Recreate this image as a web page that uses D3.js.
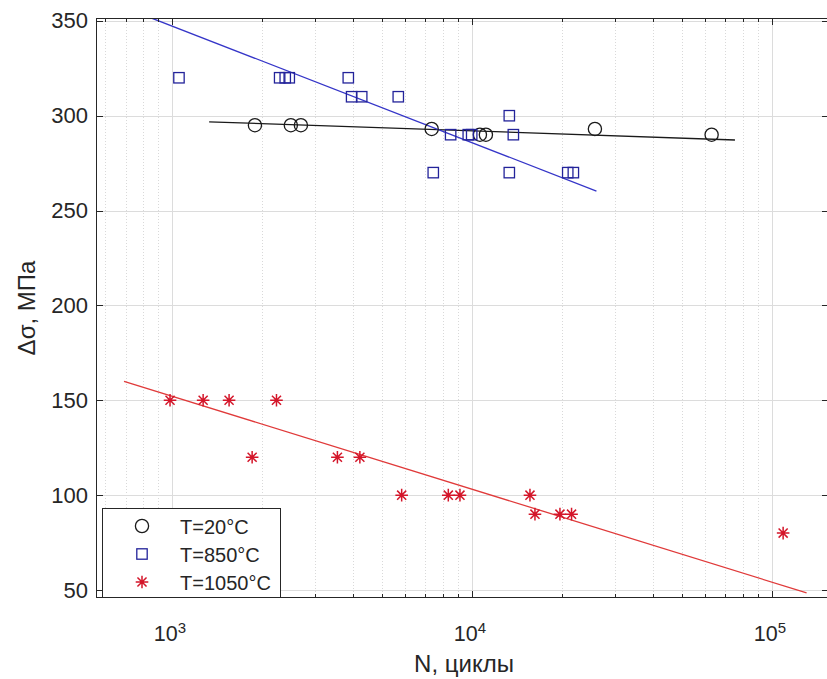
<!DOCTYPE html>
<html>
<head>
<meta charset="utf-8">
<script src="https://cdn.jsdelivr.net/npm/d3@7"></script>
<style>
  html, body { margin: 0; padding: 0; background: #fff; }
  svg { display: block; }
  text { font-family: "Liberation Sans", Arial, Helvetica, sans-serif; fill: #262626; }
</style>
</head>
<body>
<svg id="chart" width="827" height="679"></svg>
<script>
// ---- data ----
const seriesNames = ["T=20°C", "T=850°C", "T=1050°C"];

const t20N = [1890, 2490, 2690, 7340, 10630, 11130, 25700, 62950];
const t20S = [295, 295, 295, 293, 290, 290, 293, 290];

const t850N = [1055, 2285, 2385, 2460, 3870, 3970, 4290, 5680, 7430, 8490, 9720, 9980, 13320, 13320, 13740, 20860, 21780];
const t850S = [320, 320, 320, 320, 320, 310, 310, 310, 270, 290, 290, 290, 300, 270, 290, 270, 270];

const t1050N = [985, 1270, 1550, 2230, 1850, 3560, 4230, 5830, 8340, 9120, 15610, 16220, 19650, 21480, 109000];
const t1050S = [150, 150, 150, 150, 120, 120, 120, 100, 100, 100, 100, 90, 90, 90, 80];

// fitted lines (endpoints)
const fit20N = [1330, 75300];   const fit20S = [296.8, 287.2];
const fit850N = [850, 26000];   const fit850S = [351.6, 260.3];
const fit1050N = [692, 130500]; const fit1050S = [160, 48.5];

const yTicks = [50, 100, 150, 200, 250, 300, 350];
const xMajor = [1e3, 1e4, 1e5];
const xMajorExp = ["3", "4", "5"];
const xLim = [558, 155000];
const yLim = [45.8, 351.5];

const xLabel = "N, циклы";
const yLabel = "Δσ, МПа";

// ---- layout ----
const L = 96, R = 829, T = 18, B = 598;
const svg = d3.select("#chart");
const x = d3.scaleLog().domain(xLim).range([L, R]);
const y = d3.scaleLinear().domain(yLim).range([B, T]);

// minor ticks
const xMinor = [];
for (let e = 2; e <= 5; e++) {
  for (let m = 1; m <= 9; m++) {
    const v = m * Math.pow(10, e);
    if (v >= xLim[0] && v <= xLim[1] && m !== 1) xMinor.push(v);
  }
}

const grid = svg.append("g");
// minor vertical dotted grid
grid.selectAll(".vminor").data(xMinor).enter().append("line")
  .attr("x1", d => Math.round(x(d)) + 0.5).attr("x2", d => Math.round(x(d)) + 0.5)
  .attr("y1", T).attr("y2", B)
  .attr("stroke", "#d9d9d9").attr("stroke-width", 1).attr("stroke-dasharray", "1,2");
// major vertical grid
grid.selectAll(".vmajor").data(xMajor).enter().append("line")
  .attr("x1", d => Math.round(x(d)) + 0.5).attr("x2", d => Math.round(x(d)) + 0.5)
  .attr("y1", T).attr("y2", B)
  .attr("stroke", "#dcdcdc").attr("stroke-width", 1);
// horizontal grid
grid.selectAll(".hgrid").data(yTicks).enter().append("line")
  .attr("x1", L).attr("x2", R)
  .attr("y1", d => Math.round(y(d)) + 0.5).attr("y2", d => Math.round(y(d)) + 0.5)
  .attr("stroke", "#dcdcdc").attr("stroke-width", 1);

// clip
svg.append("clipPath").attr("id", "clip").append("rect")
  .attr("x", L).attr("y", T).attr("width", R - L).attr("height", B - T);
const plot = svg.append("g").attr("clip-path", "url(#clip)");

const line = d3.line().x(d => x(d[0])).y(d => y(d[1]));
const fits = [
  { n: fit20N, s: fit20S, c: "#1a1a1a" },
  { n: fit850N, s: fit850S, c: "#3535c8" },
  { n: fit1050N, s: fit1050S, c: "#e03a3a" }
];
fits.forEach(f => {
  plot.append("path").datum(f.n.map((v, i) => [v, f.s[i]]))
    .attr("d", line).attr("fill", "none").attr("stroke", f.c).attr("stroke-width", 1.3);
});

// markers
function drawCircle(g, cx, cy, col) {
  g.append("circle").attr("cx", cx).attr("cy", cy).attr("r", 6.6)
    .attr("fill", "none").attr("stroke", col).attr("stroke-width", 1.3);
}
function drawSquare(g, cx, cy, col) {
  g.append("rect").attr("x", cx - 5.2).attr("y", cy - 5.2).attr("width", 10.4).attr("height", 10.4)
    .attr("fill", "none").attr("stroke", col).attr("stroke-width", 1.3);
}
function drawStar(g, cx, cy, col) {
  const r = 6.3, d = r * 0.72;
  const p = `M${cx - r},${cy}L${cx + r},${cy}M${cx},${cy - r}L${cx},${cy + r}` +
            `M${cx - d},${cy - d}L${cx + d},${cy + d}M${cx - d},${cy + d}L${cx + d},${cy - d}`;
  g.append("path").attr("d", p).attr("stroke", col).attr("stroke-width", 1.5).attr("fill", "none");
}

const colCircle = "#1a1a1a", colSquare = "#23239a", colStar = "#d4162a";
t20N.forEach((n, i) => drawCircle(plot, x(n), y(t20S[i]), colCircle));
t850N.forEach((n, i) => drawSquare(plot, x(n), y(t850S[i]), colSquare));
t1050N.forEach((n, i) => drawStar(plot, x(n), y(t1050S[i]), colStar));

// axes box + ticks
const ax = svg.append("g").attr("stroke", "#262626").attr("stroke-width", 1);
ax.append("rect").attr("x", L + 0.5).attr("y", T + 0.5).attr("width", R - L - 1).attr("height", B - T - 1)
  .attr("fill", "none");
// x ticks (bottom & top)
xMajor.forEach(v => {
  const px = Math.round(x(v)) + 0.5;
  ax.append("line").attr("x1", px).attr("x2", px).attr("y1", B).attr("y2", B - 7);
  ax.append("line").attr("x1", px).attr("x2", px).attr("y1", T).attr("y2", T + 7);
});
xMinor.forEach(v => {
  const px = Math.round(x(v)) + 0.5;
  ax.append("line").attr("x1", px).attr("x2", px).attr("y1", B).attr("y2", B - 4);
  ax.append("line").attr("x1", px).attr("x2", px).attr("y1", T).attr("y2", T + 4);
});
// y ticks (left & right)
yTicks.forEach(v => {
  const py = Math.round(y(v)) + 0.5;
  ax.append("line").attr("x1", L).attr("x2", L + 7).attr("y1", py).attr("y2", py);
  ax.append("line").attr("x1", R).attr("x2", R - 7).attr("y1", py).attr("y2", py);
});

// y tick labels
svg.selectAll(".ylab").data(yTicks).enter().append("text")
  .attr("x", L - 8).attr("y", d => y(d) + 7.5)
  .attr("text-anchor", "end").attr("font-size", 22)
  .text(d => d);

// x tick labels 10^n
xMajor.forEach((v, i) => {
  const t = svg.append("text").attr("x", x(v) - 2).attr("y", 641).attr("text-anchor", "middle").attr("font-size", 21.5);
  t.append("tspan").text("10");
  t.append("tspan").attr("font-size", 15).attr("dy", -8).text(xMajorExp[i]);
});

// axis labels
svg.append("text").attr("x", (L + 826) / 2 + 3).attr("y", 672).attr("text-anchor", "middle")
  .attr("font-size", 24).text(xLabel);
svg.append("text").attr("transform", `translate(35,${(T + B) / 2}) rotate(-90)`)
  .attr("text-anchor", "middle").attr("font-size", 24).text(yLabel);

// legend
const lg = svg.append("g");
lg.append("rect").attr("x", 102.5).attr("y", 508.5).attr("width", 178).attr("height", 89)
  .attr("fill", "#fff").attr("stroke", "#262626").attr("stroke-width", 1);
const legY = [526, 554, 582];
const drawers = [[drawCircle, colCircle], [drawSquare, colSquare], [drawStar, colStar]];
seriesNames.forEach((name, i) => {
  drawers[i][0](lg, 142, legY[i], drawers[i][1]);
  lg.append("text").attr("x", 180).attr("y", legY[i] + 7.5).attr("font-size", 20).text(name);
});
</script>
</body>
</html>
